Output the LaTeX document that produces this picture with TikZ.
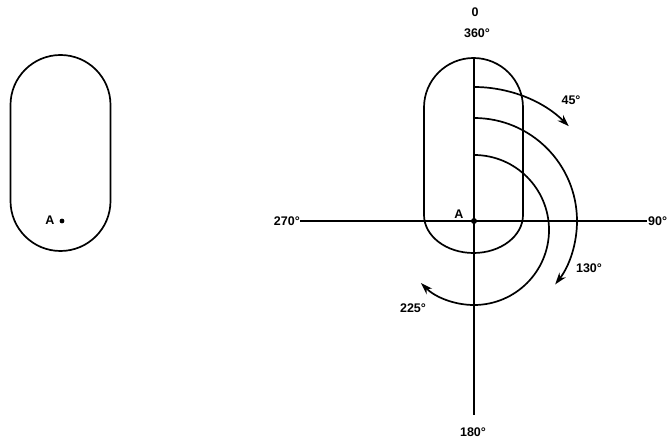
\documentclass[tikz,border=0pt]{standalone}
\usepackage{fontspec}
\setmainfont{Liberation Sans}
\usetikzlibrary{arrows.meta}
\begin{document}
\begin{tikzpicture}[x=1pt,y=1pt,
  outline/.style={line width=1.7pt},
  axis/.style={line width=1.4pt},
  turn/.style={line width=1.7pt,-{Stealth[length=12pt,width=8pt]}},
  lbl/.style={font=\bfseries\fontsize{12.5}{14}\selectfont,inner sep=1pt}]
\useasboundingbox (0,0) rectangle (669,442);
% left stadium
\draw[outline] (10.5,337) arc[start angle=180,end angle=0,radius=50] -- (110.5,241) arc[start angle=0,end angle=-180,radius=50] -- cycle;
\node[lbl] (aleft) at (50,222) {A};
\fill (62,221) circle (2.4pt);
% right stadium
\draw[outline] (424,334.5) arc[start angle=180,end angle=0,radius=49.5] -- (523,227) arc[start angle=0,end angle=-180,x radius=49.5,y radius=38] -- cycle;
% axes
\coordinate (A) at (474,221);
\coordinate (top) at (474,384);
\coordinate (bot) at (474,27);
\coordinate (lft) at (300,221);
\coordinate (rgt) at (647,221);
\draw[line width=2pt] (top) -- (bot);
\draw[axis] (lft) -- (rgt);
\fill (A) circle (3pt);
\node[lbl] (aright) at (459,228) {A};
% rotation arcs
\draw[turn] (474,355) arc[start angle=90,end angle=45,radius=134];
\draw[turn] (474,324) arc[start angle=90,end angle=-38,radius=103];
\draw[turn] (474,287) arc[start angle=90,end angle=-135,radius=75];
% labels
\node[lbl] (l0) at (475,430) {0};
\node[lbl] (l360) at (477,409) {360°};
\node[lbl] (l45) at (571,342) {45°};
\node[lbl] (l130) at (589,174) {130°};
\node[lbl] (l225) at (413,134) {225°};
\node[lbl,anchor=east] (l270) at (301,221) {270°};
\node[lbl,anchor=west] (l90) at (647,221) {90°};
\node[lbl] (l180) at (473,10) {180°};
\end{tikzpicture}
\end{document}
